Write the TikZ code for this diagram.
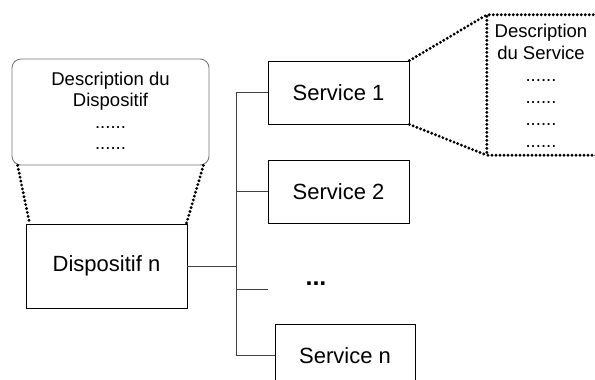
\documentclass[tikz,border=0pt]{standalone}
\usepackage{fontspec}
\setmainfont{Liberation Sans}
\usepackage{tikz}
\usetikzlibrary{calc}

\begin{document}
\begin{tikzpicture}[x=1pt,y=-1pt,
  box/.style={draw, line width=0.8pt, inner sep=0pt, font=\fontsize{22}{25}\selectfont},
  descbox/.style={draw=black!55, line width=0.8pt, rounded corners=9pt, inner sep=0pt},
  desctext/.style={align=center, font=\fontsize{18.5}{21}\selectfont},
  beads/.style={line width=3.2pt, dash pattern=on 0pt off 4pt, line cap=round},
  bus/.style={draw=black!75, line width=0.8pt}]
\clip (0,0) rectangle (595,380);
\node[descbox, minimum width=197pt, minimum height=106pt] (descD) at (110.5,112) {};
\node[desctext] (descDtext) at (110.5,111) {Description du\\Dispositif\\[1pt]......\\......};
\node[box, minimum width=161pt, minimum height=84pt] (disp) at (106.5,266) {Dispositif n};
\node[box, minimum width=141pt, minimum height=63pt] (s1) at (338.5,92.5) {Service 1};
\node[box, minimum width=141pt, minimum height=63pt] (s2) at (338.5,191.5) {Service 2};
\node[font=\fontsize{25}{27}\selectfont\bfseries] (sdots) at (316,284) {...};
\node[box, minimum width=140pt, minimum height=63pt] (sn) at (345,355.5) {Service n};
\node[minimum width=150pt, minimum height=140pt, inner sep=0pt] (descS) at (562,85) {};
\node[desctext, font=\fontsize{18.5}{22}\selectfont] (descStext) at (541,86) {Description\\du Service\\......\\......\\......\\......};
% bus
\coordinate (bustop) at (236,92.5);
\coordinate (busbot) at (236,355.5);
\coordinate (bdots) at (268,289);
\draw[bus] (disp.east) -- (disp.east -| bustop);
\draw[bus] (bustop) -- (busbot);
\draw[bus] (bustop) -- (s1.west);
\draw[bus] (s2.west -| bustop) -- (s2.west);
\draw[bus] (bdots -| bustop) -- (bdots);
\draw[bus] (busbot) -- (sn.west);
% zoom lines
\draw[beads] ([xshift=6pt]descD.south west) -- ([xshift=4pt]disp.north west);
\draw[beads] ([xshift=-6pt]descD.south east) -- ([xshift=-1pt]disp.north east);
\draw[beads] (s1.north east) -- (descS.north west);
\draw[beads] (s1.south east) -- (descS.south west);
\draw[beads] (descS.north east) -- (descS.north west) -- (descS.south west) -- (descS.south east);
\end{tikzpicture}
\end{document}
